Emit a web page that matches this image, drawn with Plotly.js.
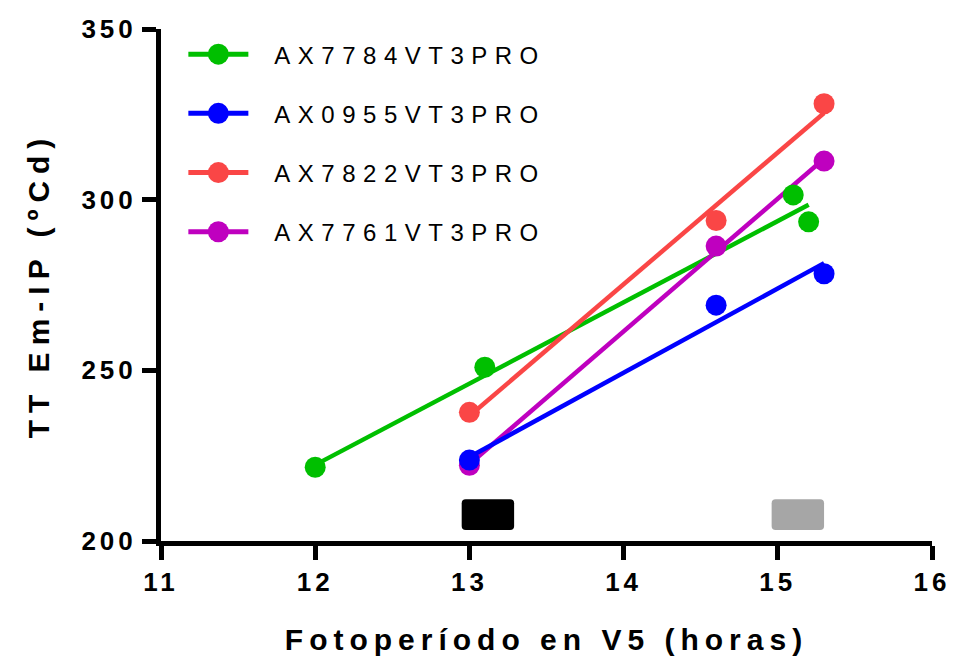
<!DOCTYPE html>
<html>
<head>
<meta charset="utf-8">
<script src="https://cdn.plot.ly/plotly-3.0.1.min.js"></script>
<style>
  html, body { margin: 0; padding: 0; background: #fff; }
  #chart { width: 966px; height: 667px; }
  .legend .scrollbox { clip-path: none !important; }
  .legendtext { letter-spacing: 7.5px; transform: translateX(21px); }
  .xtick text, .ytick text { letter-spacing: 4px; }
  .g-xtitle text { letter-spacing: 6px; }
  .g-ytitle text { letter-spacing: 7px; }
</style>
</head>
<body>
<div id="chart"></div>
<script>
// ---- data ----
const seriesNames = ['AX7784VT3PRO', 'AX0955VT3PRO', 'AX7822VT3PRO', 'AX7761VT3PRO'];
const seriesColors = ['#00BF00', '#0000FF', '#FA4646', '#BF00BF'];

// observed points (photoperiod in V5, hours ; TT Em-IP, ºCd)
const greenX = [12, 13.1, 15.1, 15.2];
const greenY = [221.6, 250.9, 301.4, 293.5];
const blueX = [13, 14.6, 15.3];
const blueY = [223.7, 269.1, 278.3];
const redX = [13, 14.6, 15.3];
const redY = [237.7, 293.9, 328.1];
const magentaX = [13, 14.6, 15.3];
const magentaY = [222.2, 286.4, 311.3];

// fitted lines (end points)
const greenFitX = [12, 15.2];
const greenFitY = [222.3, 298.5];
const blueFitX = [13, 15.3];
const blueFitY = [224.6, 281.4];
const redFitX = [13, 15.3];
const redFitY = [236.6, 325.4];
const magentaFitX = [13, 15.3];
const magentaFitY = [222.5, 312.0];

// photoperiod bands drawn at bottom
const bandStart = [12.95, 14.96];
const bandEnd = [13.29, 15.3];
const bandLevel = [207.7, 207.7];
const bandColors = ['#000000', '#A6A6A6'];

// axis ticks
const xTicks = [11, 12, 13, 14, 15, 16];
const yTicks = [200, 250, 300, 350];

// ---- build traces ----
const FONT = '"Liberation Sans", Arial, Helvetica, sans-serif';
const pts = [[greenX, greenY], [blueX, blueY], [redX, redY], [magentaX, magentaY]];
const fits = [[greenFitX, greenFitY], [blueFitX, blueFitY], [redFitX, redFitY], [magentaFitX, magentaFitY]];
const drawOrder = [0, 2, 3, 1];

const traces = [];
traces.push({
  type: 'bar', orientation: 'h',
  y: bandLevel,
  x: bandEnd.map((e, i) => e - bandStart[i]),
  base: bandStart,
  width: 9,
  marker: { color: bandColors, cornerradius: 4, line: { width: 0 } },
  showlegend: false, hoverinfo: 'skip'
});
drawOrder.forEach(i => {
  traces.push({
    type: 'scatter', mode: 'lines', x: fits[i][0], y: fits[i][1],
    line: { color: seriesColors[i], width: 4.5 }, showlegend: false, hoverinfo: 'skip'
  });
});
drawOrder.forEach(i => {
  traces.push({
    type: 'scatter', mode: 'markers', x: pts[i][0], y: pts[i][1],
    marker: { color: seriesColors[i], size: 21 }, showlegend: false, cliponaxis: false
  });
});
seriesNames.forEach((n, i) => {
  traces.push({
    type: 'scatter', mode: 'lines+markers', x: [null], y: [null], name: n,
    legendgroup: 'g' + i,
    line: { color: seriesColors[i], width: 5 },
    marker: { color: seriesColors[i], size: 21 }
  });
});

const layout = {
  width: 966, height: 667,
  margin: { l: 161, r: 34, t: 29, b: 126 },
  paper_bgcolor: '#fff', plot_bgcolor: '#fff',
  font: { family: FONT, color: '#000' },
  showlegend: true,
  barmode: 'overlay',
  legend: {
    x: 0.029, y: 0.994, xanchor: 'left', yanchor: 'top',
    font: { family: FONT, size: 24, color: '#000' },
    traceorder: 'grouped', tracegroupgap: 25, itemwidth: 60,
    bgcolor: 'rgba(0,0,0,0)'
  },
  xaxis: {
    range: [11, 16], tickvals: xTicks, ticktext: xTicks.map(String),
    showline: true, linecolor: '#000', linewidth: 5,
    ticks: 'outside', ticklen: 14, tickwidth: 5, tickcolor: '#000',
    showgrid: false, zeroline: false,
    tickfont: { family: FONT, size: 26, color: '#000', weight: 'bold' },
    title: { text: 'Fotoperíodo en V5 (horas)', standoff: 34,
      font: { family: FONT, size: 30, color: '#000', weight: 'bold' } }
  },
  yaxis: {
    range: [200, 350], tickvals: yTicks, ticktext: yTicks.map(String),
    showline: true, linecolor: '#000', linewidth: 5,
    ticks: 'outside', ticklen: 14, tickwidth: 5, tickcolor: '#000',
    showgrid: false, zeroline: false,
    tickfont: { family: FONT, size: 26, color: '#000', weight: 'bold' },
    title: { text: 'TT Em-IP (ºCd)', standoff: 24,
      font: { family: FONT, size: 30, color: '#000', weight: 'bold' } }
  }
};

Plotly.newPlot('chart', traces, layout, { staticPlot: true, displayModeBar: false }).then(() => {
  // enlarge legend symbols to the marker size used in the plot (21px)
  const r = 10.5;
  const circle = 'M' + r + ',0A' + r + ',' + r + ' 0 1,1 0,-' + r + 'A' + r + ',' + r + ' 0 0,1 ' + r + ',0Z';
  document.querySelectorAll('.legend .legendpoints path.scatterpts').forEach(p => p.setAttribute('d', circle));
});
</script>
</body>
</html>
